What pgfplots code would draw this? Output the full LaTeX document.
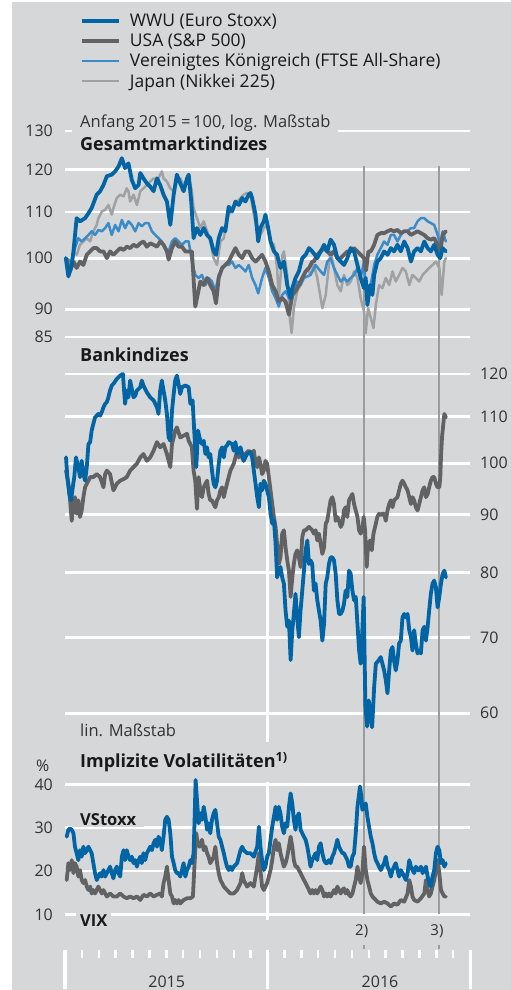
\documentclass[border=0pt]{standalone}
\usepackage{fontspec}
\setmainfont{Open Sans}
\usepackage{pgfplots}
\pgfplotsset{compat=1.18}
\definecolor{bg}{RGB}{214,215,217}
\definecolor{wwu}{RGB}{0,100,165}
\definecolor{usa}{RGB}{98,98,100}
\definecolor{uk}{RGB}{58,139,201}
\definecolor{jp}{RGB}{160,161,163}
\definecolor{ev}{RGB}{155,156,158}
\definecolor{txt}{RGB}{25,25,25}
\definecolor{lab}{RGB}{50,50,50}
\pgfplotsset{
 base/.style={
  scale only axis, width=405bp, xmin=0, xmax=24, clip=false, anchor=south west,
  axis line style={draw=none}, xtick=\empty, major tick length=0pt, tick style={draw=none},
  ymajorgrids, grid style={white, line width=2.8bp},
  tick label style={font=\fontsize{16bp}{19bp}\selectfont, text=lab},
  /pgf/number format/assume math mode=true,
  every axis plot/.append style={line join=round, line cap=round},
 },
 thick/.style={line width=3.8bp},
 thin/.style={line width=2.5bp},
}
\begin{document}
\begin{tikzpicture}
\fill[white] (0,0) rectangle (511bp,990bp);
\fill[bg] (12bp,0) rectangle (511bp,988bp);
% ---------------- top panel ----------------
\begin{axis}[base, at={(65bp,653bp)}, height=206bp, ymode=log, ymin=85, ymax=130,
  ytick={85,90,100,110,120,130}, yticklabels={85,90,100,110,120,130},
  yticklabel style={anchor=east, inner sep=0pt, xshift=-12bp},
  legend style={at={(axis description cs:0.037,1.568)}, anchor=north west, draw=none, fill=none,
    inner sep=0pt, row sep=5.5bp, column sep=9bp, font=\fontsize{17.5bp}{20bp}\selectfont, text=txt,
    nodes={inner sep=0pt}, cells={anchor=west}},
  legend image code/.code={\draw[#1, line cap=butt] (0bp,0bp) -- (37bp,0bp);},
  reverse legend]
\draw[white, line width=3bp] (axis cs:12,122.96) -- (axis cs:12,81.7);
\draw[ev, line width=2.2bp] (axis cs:17.74,120.9) -- (axis cs:17.74,81.7);
\draw[ev, line width=2.2bp] (axis cs:22.18,120.9) -- (axis cs:22.18,81.7);
\addplot[jp, thin] table {
0.05 100.0
0.30 98.6
0.50 101.4
0.69 100.7
0.89 102.8
1.09 103.5
1.29 104.2
1.49 103.5
1.68 105.7
1.88 107.1
1.98 108.6
2.18 110.1
2.38 110.5
2.57 111.6
2.77 109.4
2.87 110.9
3.07 113.2
3.27 114.0
3.47 113.6
3.66 115.5
3.76 114.8
3.86 112.4
4.06 114.0
4.26 111.6
4.46 114.8
4.65 115.5
4.85 116.3
5.05 117.1
5.25 117.9
5.45 117.1
5.64 118.8
5.74 119.6
5.84 117.9
6.04 117.1
6.24 115.5
6.44 114.8
6.63 117.1
6.83 117.9
7.03 116.3
7.23 117.1
7.33 118.4
7.52 114.8
7.62 110.9
7.82 108.6
8.02 106.4
8.22 107.9
8.42 105.7
8.61 103.5
8.81 100.0
9.01 98.6
9.21 103.5
9.41 104.2
9.60 108.6
9.80 110.1
10.00 110.9
10.20 112.4
10.40 113.2
10.59 114.0
10.79 114.4
10.99 114.0
11.19 109.4
11.39 105.7
11.58 104.9
11.78 106.4
11.98 107.1
12.18 103.5
12.38 102.8
12.57 98.0
12.67 92.0
12.87 100.5
12.97 101.4
13.17 96.6
13.30 89.0
13.43 85.7
13.56 90.2
13.76 93.4
13.96 94.6
14.16 96.6
14.36 98.0
14.55 96.6
14.75 98.6
14.95 96.0
15.15 92.1
15.25 90.2
15.45 92.7
15.64 98.6
15.74 101.4
15.94 98.0
16.14 94.6
16.34 93.4
16.53 96.6
16.73 94.6
16.93 95.3
17.13 97.3
17.33 96.0
17.52 92.1
17.72 89.6
17.82 85.7
17.96 90.2
18.12 88.4
18.28 86.6
18.42 90.8
18.61 94.6
18.81 94.0
19.01 96.0
19.21 94.6
19.41 97.3
19.60 95.3
19.80 96.6
20.00 98.0
20.20 97.3
20.40 94.6
20.59 96.6
20.79 96.0
20.99 95.3
21.19 96.6
21.39 97.3
21.58 98.0
21.78 98.6
21.98 99.3
22.18 98.0
22.32 92.7
22.48 99.3
22.57 100.0
};
\addlegendentry{Japan (Nikkei 225)}
\addplot[uk, thin] table {
0.05 100.0
0.40 99.3
0.59 102.1
0.79 104.2
0.99 103.5
1.19 104.2
1.39 104.9
1.58 105.7
1.78 104.9
1.98 106.0
2.18 105.7
2.38 106.4
2.57 107.5
2.77 104.9
2.97 107.1
3.17 105.7
3.37 108.2
3.56 106.4
3.76 107.9
3.96 107.1
4.16 105.7
4.36 107.5
4.55 106.8
4.75 107.5
4.95 107.5
5.15 105.7
5.35 104.9
5.54 104.2
5.74 103.5
5.94 102.1
6.14 101.4
6.34 103.5
6.53 104.2
6.73 103.5
6.93 102.8
7.13 103.5
7.33 103.5
7.52 99.3
7.72 96.6
7.92 96.0
8.12 96.6
8.32 94.6
8.51 96.0
8.71 95.3
8.91 93.4
9.11 96.6
9.31 98.0
9.50 98.6
9.70 98.6
9.90 99.3
10.10 98.0
10.30 98.6
10.50 98.0
10.69 97.3
10.89 98.6
11.09 96.0
11.29 94.6
11.45 93.0
11.68 96.0
11.88 98.0
12.08 96.0
12.28 93.4
12.48 92.1
12.67 90.5
12.87 92.7
13.07 93.4
13.27 92.1
13.43 91.4
13.56 93.4
13.76 95.3
13.96 94.6
14.16 96.0
14.36 96.3
14.55 96.6
14.85 98.6
15.15 97.3
15.35 96.6
15.54 99.3
15.74 100.0
15.94 98.0
16.14 96.6
16.34 95.3
16.53 96.0
16.73 95.3
16.93 96.0
17.13 96.6
17.33 98.0
17.52 96.0
17.72 99.3
17.84 93.0
17.98 94.0
18.12 94.6
18.32 98.6
18.51 100.7
18.71 102.1
18.91 103.5
19.11 102.8
19.31 104.9
19.50 104.9
19.70 103.5
19.90 104.9
20.10 105.7
20.30 105.7
20.50 106.4
20.69 106.4
20.89 107.9
21.09 108.6
21.29 108.6
21.49 107.9
21.68 107.5
21.88 107.1
22.08 104.9
22.24 102.8
22.38 105.7
22.57 103.5
};
\addlegendentry{Vereinigtes Königreich (FTSE All-Share)}
\addplot[usa, thick] table {
0.05 100.0
0.30 97.3
0.50 99.3
0.69 98.0
0.89 99.3
1.09 98.6
1.29 100.7
1.49 101.4
1.68 102.1
1.88 102.1
2.08 101.4
2.28 101.4
2.48 100.0
2.67 101.4
2.87 100.7
3.07 101.4
3.27 102.1
3.47 101.7
3.66 102.4
3.86 102.1
4.06 102.8
4.26 102.4
4.46 103.1
4.65 103.5
4.85 102.4
5.05 103.1
5.25 102.8
5.45 102.4
5.64 103.5
5.84 102.8
6.04 101.4
6.14 99.7
6.34 102.1
6.53 103.5
6.73 102.4
6.93 102.4
7.13 101.4
7.52 101.4
7.72 90.5
8.02 95.3
8.22 94.6
8.42 96.0
8.61 94.6
8.81 93.4
8.95 91.1
9.11 96.0
9.31 98.0
9.50 98.6
9.70 99.3
9.90 100.7
10.10 102.1
10.30 100.7
10.50 100.0
10.69 101.4
10.89 101.4
11.09 100.0
11.29 99.3
11.49 100.0
11.68 100.7
11.88 99.3
12.08 97.3
12.28 94.6
12.48 93.4
12.67 91.5
12.87 92.1
13.07 91.4
13.27 89.0
13.47 92.7
13.66 93.4
13.86 94.6
14.06 96.0
14.26 97.3
14.46 98.0
14.65 99.3
14.75 99.3
14.95 100.7
15.15 101.4
15.35 102.1
15.54 101.4
15.74 100.7
15.94 101.4
16.14 100.0
16.34 100.0
16.53 100.7
16.73 101.4
16.93 101.4
17.13 102.1
17.33 101.4
17.52 100.7
17.72 100.0
17.84 97.5
17.98 101.4
18.12 101.4
18.32 102.8
18.51 104.9
18.71 105.3
18.91 105.3
19.11 105.7
19.31 106.0
19.50 105.7
19.70 106.0
19.90 105.3
20.10 105.7
20.30 105.7
20.50 104.9
20.69 105.3
20.89 105.7
21.09 105.3
21.29 104.9
21.49 104.2
21.68 103.9
21.88 104.2
22.08 102.8
22.24 101.4
22.38 104.9
22.57 105.7
};
\addlegendentry{USA (S\&P 500)}
\addplot[wwu, thick] table {
0.05 100.0
0.20 96.3
0.40 98.6
0.50 101.4
0.69 108.6
0.89 107.9
1.19 108.6
1.39 109.7
1.58 110.9
1.88 114.0
2.08 114.8
2.28 116.3
2.48 118.4
2.77 118.8
2.97 119.6
3.17 120.8
3.37 122.9
3.56 120.4
3.76 121.6
3.96 117.5
4.16 115.5
4.36 116.3
4.46 119.2
4.65 117.9
4.85 116.7
5.05 115.9
5.25 114.8
5.45 117.9
5.64 116.3
5.84 114.0
6.04 112.4
6.24 107.1
6.44 114.0
6.63 118.8
6.83 116.7
7.03 114.8
7.23 117.9
7.33 118.8
7.48 112.4
7.62 104.2
7.82 106.4
8.02 104.9
8.22 106.4
8.42 104.9
8.61 104.2
8.81 101.4
8.95 100.7
9.11 104.2
9.31 106.4
9.50 105.7
9.70 111.2
9.90 110.1
10.10 112.4
10.30 111.6
10.50 113.2
10.69 112.4
10.89 114.0
10.99 114.4
11.09 113.2
11.29 109.4
11.45 103.5
11.58 106.4
11.78 107.9
11.88 109.4
12.04 106.4
12.18 103.5
12.38 101.4
12.57 100.7
12.77 98.0
12.97 99.3
13.17 94.6
13.37 92.1
13.47 94.0
13.66 96.0
13.86 97.3
14.06 100.0
14.26 100.7
14.46 102.1
14.65 101.4
14.95 100.0
15.15 101.4
15.35 102.8
15.54 101.4
15.74 103.9
15.94 102.8
16.14 100.0
16.34 99.3
16.53 98.6
16.73 100.0
16.93 102.1
17.13 101.4
17.33 98.6
17.52 96.0
17.72 94.0
17.82 96.0
17.92 90.8
18.08 94.6
18.22 92.7
18.32 96.6
18.51 99.3
18.71 100.0
18.91 101.4
19.11 100.7
19.31 102.1
19.50 101.4
19.70 102.8
19.90 101.4
20.10 103.5
20.30 102.1
20.50 99.3
20.69 101.4
20.89 102.1
21.09 101.4
21.29 103.5
21.49 102.1
21.68 101.4
21.88 102.8
22.08 100.7
22.24 100.0
22.38 102.1
22.57 101.4
};
\addlegendentry{WWU (Euro Stoxx)}
\end{axis}
% ---------------- bank panel ----------------
\begin{axis}[base, at={(65bp,276.7bp)}, height=339.3bp, ymode=log, ymin=60, ymax=120,
  ytick={60,70,80,90,100,110,120}, yticklabels={60,70,80,90,100,110,120},
  yticklabel pos=right, yticklabel style={anchor=west, inner sep=0pt, xshift=10bp}]
\draw[white, line width=3bp] (axis cs:12,124.5) -- (axis cs:12,56.6);
\draw[ev, line width=2.2bp] (axis cs:17.74,124.5) -- (axis cs:17.74,55.7);
\draw[ev, line width=2.2bp] (axis cs:22.18,124.5) -- (axis cs:22.18,55.7);
\addplot[usa, thick] table {
0.06 98.5
0.20 95.9
0.30 92.7
0.40 88.9
0.50 92.0
0.59 93.3
0.69 90.2
0.79 92.7
0.89 89.6
0.99 90.8
1.09 93.3
1.19 95.2
1.29 95.9
1.39 96.5
1.49 97.2
1.68 97.2
1.88 97.8
2.08 97.2
2.28 95.2
2.38 97.8
2.48 98.5
2.67 97.8
2.87 94.6
3.07 95.9
3.27 96.5
3.47 96.8
3.66 97.2
3.86 98.5
4.06 99.2
4.26 99.9
4.46 101.2
4.65 101.9
4.85 100.5
5.05 101.2
5.25 102.6
5.45 104.4
5.64 103.3
5.84 104.0
6.04 101.9
6.24 99.2
6.34 104.0
6.44 105.4
6.53 106.9
6.63 107.6
6.83 105.4
7.03 105.8
7.23 106.2
7.33 104.7
7.52 103.3
7.62 98.5
7.72 96.5
7.82 91.1
7.92 97.2
8.02 94.6
8.12 93.3
8.22 95.2
8.32 95.9
8.42 96.5
8.51 93.9
8.61 92.7
8.71 92.7
8.81 92.0
8.91 91.4
9.01 92.7
9.11 93.3
9.21 94.6
9.31 95.2
9.41 93.3
9.50 94.6
9.60 95.9
9.70 97.2
9.80 98.5
9.90 99.2
10.00 99.9
10.10 101.2
10.20 102.6
10.30 101.2
10.40 102.6
10.50 101.2
10.59 100.5
10.69 101.9
10.89 102.6
11.09 101.9
11.19 102.6
11.29 99.9
11.39 99.2
11.49 101.2
11.58 99.9
11.68 97.8
11.78 98.5
11.88 100.5
11.98 99.9
12.08 97.2
12.18 94.6
12.28 92.0
12.38 89.6
12.48 87.8
12.57 84.8
12.67 81.4
12.77 82.5
12.87 86.6
12.97 87.2
13.07 84.2
13.17 82.0
13.27 80.3
13.37 76.1
13.47 79.2
13.56 81.4
13.66 83.1
13.76 83.7
13.86 82.5
13.96 80.9
14.06 86.0
14.16 87.2
14.26 87.2
14.46 87.8
14.65 87.2
14.75 86.6
14.85 87.2
14.95 85.4
15.05 86.6
15.15 84.8
15.25 83.1
15.35 84.2
15.45 88.4
15.54 88.9
15.64 90.8
15.74 92.7
15.84 93.3
15.94 92.0
16.04 88.9
16.14 89.6
16.24 88.9
16.34 87.8
16.44 88.4
16.53 90.8
16.63 91.4
16.73 89.6
16.83 92.7
16.93 93.3
17.03 93.9
17.13 92.0
17.23 90.8
17.33 89.6
17.43 87.2
17.52 86.6
17.62 87.2
17.70 89.6
17.78 87.2
17.88 80.9
17.96 84.8
18.08 85.4
18.18 83.7
18.28 86.6
18.42 88.4
18.51 89.6
18.61 90.2
18.71 89.9
18.81 90.2
18.91 90.2
19.01 88.9
19.11 90.8
19.21 92.0
19.31 92.7
19.41 91.4
19.50 92.7
19.60 93.0
19.70 93.3
19.80 94.6
19.90 95.9
20.00 96.5
20.10 95.9
20.20 95.2
20.30 94.6
20.40 93.3
20.50 92.0
20.59 93.3
20.69 92.7
20.79 91.4
20.89 90.8
20.99 92.0
21.09 93.3
21.19 94.6
21.29 95.2
21.39 93.3
21.49 93.9
21.58 95.2
21.68 96.5
21.78 97.2
21.88 97.2
21.98 95.9
22.08 95.2
22.18 95.2
22.24 97.2
22.28 101.2
22.34 105.4
22.42 108.4
22.48 110.6
22.57 109.8
};
\addplot[wwu, thick] table {
0.06 101.2
0.14 97.2
0.26 93.9
0.36 92.7
0.46 95.2
0.55 97.2
0.65 101.2
0.79 99.2
0.89 97.2
0.99 100.5
1.09 97.8
1.19 96.5
1.29 99.2
1.39 104.0
1.49 104.4
1.58 106.9
1.68 108.4
1.78 109.8
1.88 110.2
1.98 110.6
2.08 110.2
2.18 111.0
2.28 112.1
2.38 112.9
2.48 113.3
2.57 114.4
2.67 116.0
2.77 117.2
2.87 117.6
3.07 118.8
3.27 119.6
3.43 120.0
3.56 112.9
3.66 116.0
3.76 114.4
3.86 118.4
3.96 116.4
4.06 114.4
4.16 114.8
4.26 116.0
4.46 116.8
4.55 118.4
4.65 117.2
4.85 115.6
5.05 114.4
5.25 113.7
5.45 112.1
5.54 110.6
5.64 116.0
5.74 118.4
5.84 116.0
5.94 113.7
6.04 110.6
6.14 105.4
6.24 104.7
6.34 111.3
6.44 115.2
6.53 118.4
6.63 119.6
6.73 117.6
6.83 115.2
6.93 116.8
7.13 117.2
7.33 116.8
7.43 112.9
7.56 113.7
7.68 105.4
7.78 99.2
7.88 106.9
8.02 104.7
8.12 104.0
8.22 104.7
8.32 101.9
8.42 103.3
8.51 101.2
8.61 101.9
8.71 98.5
8.81 95.9
8.91 95.2
9.01 96.5
9.11 99.9
9.21 102.6
9.31 103.3
9.41 101.2
9.50 103.3
9.60 103.7
9.70 104.4
9.90 104.0
10.00 102.6
10.10 104.4
10.20 101.9
10.30 102.6
10.40 103.3
10.50 101.9
10.59 100.5
10.69 101.2
10.79 101.9
10.99 102.3
11.09 101.2
11.19 98.5
11.29 95.9
11.39 93.3
11.49 91.4
11.58 95.9
11.68 94.6
11.78 96.5
11.88 95.9
11.98 94.6
12.08 93.3
12.18 90.2
12.28 88.4
12.38 89.0
12.48 84.8
12.57 79.2
12.67 80.3
12.77 80.9
12.87 79.2
12.97 78.2
13.07 74.0
13.17 71.6
13.27 72.5
13.37 66.9
13.47 71.1
13.56 73.5
13.66 76.6
13.76 73.0
13.86 70.1
13.96 74.0
14.06 77.1
14.16 80.3
14.26 83.7
14.36 85.4
14.46 81.4
14.55 82.0
14.65 81.4
14.75 77.1
14.85 78.2
14.95 75.6
15.05 74.0
15.15 72.5
15.25 69.6
15.35 72.0
15.45 78.2
15.54 79.2
15.64 81.4
15.74 82.5
15.84 82.5
15.94 82.0
16.04 79.8
16.14 75.6
16.24 73.5
16.34 73.5
16.44 74.0
16.53 75.0
16.63 77.1
16.73 76.1
16.83 80.3
16.93 79.8
17.03 77.1
17.13 75.6
17.23 76.1
17.33 72.0
17.43 68.2
17.52 66.4
17.62 71.1
17.70 76.1
17.80 61.0
17.90 58.4
18.00 61.6
18.10 59.5
18.20 58.3
18.32 63.3
18.42 66.4
18.57 66.8
18.71 67.3
18.81 66.4
18.91 65.5
19.01 64.2
19.11 62.5
19.21 65.5
19.31 68.2
19.41 68.7
19.50 66.8
19.60 65.5
19.70 66.8
19.80 69.2
19.90 69.6
20.00 73.0
20.10 73.5
20.20 73.0
20.30 73.5
20.40 71.1
20.50 70.1
20.59 68.2
20.69 71.1
20.79 69.2
20.89 67.8
20.99 68.2
21.09 67.8
21.19 71.1
21.29 71.6
21.39 69.6
21.49 71.6
21.58 74.0
21.68 76.6
21.78 78.2
21.88 78.7
21.98 77.6
22.08 74.5
22.18 76.1
22.28 78.2
22.38 79.8
22.48 80.3
22.57 79.2
};
\end{axis}
% ---------------- volatility panel ----------------
\begin{axis}[base, at={(65bp,75.7bp)}, height=130bp, ymin=10, ymax=40,
  ytick={10,20,30,40}, yticklabels={10,20,30,40},
  yticklabel style={anchor=east, inner sep=0pt, xshift=-12bp}]
\draw[white, line width=3bp] (axis cs:12,40.5) -- (axis cs:12,8.7);
\draw[ev, line width=2.2bp] (axis cs:17.74,47.9) -- (axis cs:17.74,10);
\draw[ev, line width=2.2bp] (axis cs:22.18,47.9) -- (axis cs:22.18,10);
\draw[ev, line width=2bp] (axis cs:17.74,2.9) -- (axis cs:17.74,2.1);
\draw[ev, line width=2bp] (axis cs:22.18,2.9) -- (axis cs:22.18,2.1);
\pgfplotsinvokeforeach{1,...,11,13,14,15,16,17,18,19,20,21,22,23}{
  \draw[white, line width=2.5bp] (axis cs:#1,1.76) -- (axis cs:#1,-0.06);}
\pgfplotsinvokeforeach{0,12,24}{
  \draw[white, line width=3bp] (axis cs:#1,1.76) -- (axis cs:#1,-7.2);}
\node[anchor=base west, inner xsep=8bp, inner ysep=2bp, fill=bg, text=txt,
  font=\bfseries\fontsize{16.5bp}{19bp}\selectfont] at (axis cs:0.415,30.6) {VStoxx};
\node[anchor=base west, inner xsep=4bp, inner ysep=2bp, fill=bg, text=txt,
  font=\bfseries\fontsize{16.5bp}{19bp}\selectfont] at (axis cs:0.652,7.14) {VIX};
\addplot[usa, thick] table {
0.10 17.9
0.20 21.8
0.30 20.2
0.40 22.5
0.50 19.5
0.59 21.8
0.69 21.0
0.79 18.7
0.89 20.2
0.99 17.9
1.09 17.2
1.19 17.9
1.29 16.4
1.39 15.6
1.49 16.4
1.58 14.8
1.68 15.6
1.78 14.8
1.88 15.6
1.98 16.4
2.08 15.6
2.18 14.8
2.28 15.6
2.38 14.8
2.48 14.1
2.67 14.8
2.87 14.1
3.07 14.1
3.27 14.8
3.47 14.1
3.66 13.7
3.86 14.1
4.06 13.7
4.26 14.1
4.46 13.3
4.65 14.5
4.85 14.1
5.05 14.8
5.25 14.1
5.45 14.5
5.64 14.8
5.74 14.1
5.84 17.2
5.94 18.7
6.04 21.0
6.14 17.9
6.24 14.8
6.34 14.1
6.44 12.5
6.53 13.3
6.63 12.5
6.73 13.3
6.83 12.5
7.03 13.3
7.23 13.7
7.43 13.7
7.58 14.1
7.68 21.8
7.78 28.7
7.86 26.4
7.98 25.6
8.12 27.2
8.22 24.8
8.32 25.6
8.42 24.1
8.51 23.3
8.61 21.8
8.71 22.5
8.81 23.3
8.91 25.6
9.01 21.8
9.11 19.5
9.21 17.9
9.31 17.2
9.41 16.4
9.60 15.6
9.80 14.8
10.00 14.8
10.20 15.6
10.40 17.2
10.50 19.5
10.59 17.9
10.79 16.4
10.99 17.2
11.19 16.4
11.39 21.0
11.49 24.1
11.58 20.2
11.68 16.4
11.78 15.6
11.88 16.4
11.98 17.2
12.08 18.7
12.18 20.2
12.28 22.5
12.38 25.6
12.48 27.2
12.57 24.8
12.67 26.4
12.77 24.1
12.87 22.5
12.97 21.0
13.07 21.8
13.17 23.3
13.27 25.6
13.37 27.9
13.47 25.6
13.56 22.5
13.66 21.0
13.76 21.0
13.86 20.2
13.96 19.5
14.06 18.7
14.16 17.9
14.26 17.2
14.36 16.4
14.46 15.6
14.55 14.8
14.65 15.6
14.75 14.8
14.85 15.6
14.95 14.8
15.05 15.6
15.15 16.4
15.25 15.6
15.35 14.1
15.45 14.8
15.54 14.1
15.64 14.8
15.74 14.1
15.84 14.8
15.94 15.6
16.04 14.8
16.14 16.4
16.24 15.6
16.34 14.8
16.44 15.6
16.53 16.0
16.63 14.8
16.73 15.6
16.83 14.5
16.93 14.1
17.03 14.8
17.13 16.4
17.23 17.9
17.33 21.0
17.43 18.7
17.52 17.2
17.62 19.5
17.72 25.6
17.82 20.2
17.92 17.9
18.02 16.4
18.12 14.8
18.22 14.1
18.32 13.7
18.42 13.3
18.51 12.9
18.71 12.5
18.91 12.9
19.11 12.5
19.31 11.8
19.50 12.5
19.70 12.2
19.90 13.3
20.10 12.9
20.30 14.8
20.40 17.9
20.50 16.4
20.59 14.1
20.69 13.3
20.89 12.9
21.09 13.7
21.29 14.8
21.39 17.9
21.49 15.6
21.58 14.1
21.68 14.8
21.78 16.4
21.88 17.9
21.98 20.2
22.08 22.5
22.18 19.5
22.28 15.6
22.38 14.8
22.48 14.1
22.57 14.1
};
\addplot[wwu, thick] table {
0.10 27.9
0.20 29.5
0.30 29.8
0.40 29.5
0.50 28.7
0.59 25.6
0.69 24.1
0.79 22.5
0.89 24.8
0.99 23.3
1.09 25.6
1.19 24.1
1.29 24.8
1.39 25.6
1.49 24.8
1.58 24.1
1.68 21.8
1.78 19.5
1.88 17.9
1.98 18.7
2.08 19.5
2.18 18.7
2.28 20.2
2.38 18.7
2.48 19.5
2.67 21.0
2.77 19.5
2.87 18.3
2.97 20.2
3.07 21.0
3.17 19.5
3.27 18.7
3.37 23.3
3.47 24.8
3.56 22.5
3.66 24.8
3.76 23.3
3.86 22.5
3.96 23.3
4.06 21.8
4.16 22.5
4.26 21.0
4.36 22.5
4.46 23.3
4.55 21.8
4.65 24.1
4.75 22.5
4.85 24.1
4.95 24.8
5.05 25.6
5.15 24.8
5.25 26.4
5.35 27.2
5.45 25.6
5.54 27.9
5.64 27.2
5.74 24.8
5.84 27.9
5.94 31.8
6.04 32.5
6.14 31.8
6.24 28.7
6.34 23.3
6.44 21.8
6.53 20.2
6.63 19.5
6.73 19.5
6.83 18.7
6.93 20.2
7.03 21.8
7.13 18.7
7.23 20.2
7.33 21.0
7.43 22.5
7.52 21.8
7.62 24.1
7.68 31.8
7.74 41.0
7.82 36.4
7.92 31.0
8.02 33.3
8.12 31.8
8.22 34.8
8.32 32.5
8.42 29.5
8.51 31.0
8.61 28.7
8.71 31.8
8.81 33.3
8.91 34.1
9.01 31.0
9.11 27.9
9.21 27.2
9.31 25.6
9.41 24.1
9.50 22.5
9.60 21.0
9.70 20.2
9.80 21.0
9.90 20.2
10.00 21.0
10.20 21.8
10.40 24.8
10.50 25.6
10.59 24.8
10.79 24.1
10.99 24.1
11.19 23.3
11.39 25.6
11.49 30.2
11.58 25.6
11.68 22.5
11.78 20.2
11.88 21.0
11.98 23.3
12.08 24.1
12.18 27.2
12.28 30.2
12.38 32.5
12.48 34.8
12.57 31.8
12.67 34.8
12.77 33.3
12.87 30.2
12.97 28.7
13.07 31.0
13.17 30.2
13.27 34.8
13.37 37.9
13.47 35.6
13.56 31.8
13.66 29.5
13.76 32.5
13.86 33.3
13.96 29.5
14.06 28.7
14.16 27.9
14.26 27.2
14.36 25.6
14.46 23.3
14.55 21.0
14.65 22.5
14.75 23.3
14.85 24.1
14.95 22.5
15.05 25.6
15.15 26.4
15.25 24.1
15.35 22.5
15.45 21.8
15.54 21.8
15.64 22.5
15.74 21.8
15.84 23.3
15.94 24.1
16.04 25.6
16.14 27.2
16.24 25.6
16.34 24.8
16.44 24.1
16.53 24.1
16.63 23.3
16.73 22.5
16.83 21.0
16.93 21.0
17.03 23.3
17.13 24.1
17.23 28.7
17.33 34.8
17.48 39.5
17.56 37.2
17.62 34.1
17.72 34.8
17.82 35.6
17.92 32.5
18.02 30.2
18.12 27.9
18.22 26.4
18.32 24.1
18.42 22.5
18.51 21.8
18.61 21.0
18.71 20.2
18.81 21.0
18.91 21.8
19.01 23.3
19.11 21.0
19.21 20.2
19.31 18.7
19.41 20.2
19.50 21.0
19.60 21.8
19.70 20.2
19.80 18.7
19.90 20.2
20.00 19.5
20.10 18.7
20.20 17.9
20.30 19.5
20.40 22.5
20.50 21.0
20.59 20.2
20.69 19.5
20.79 21.0
20.89 20.2
20.99 20.2
21.09 21.0
21.19 19.5
21.29 20.2
21.39 21.0
21.49 18.7
21.58 17.2
21.68 16.4
21.78 18.7
21.88 20.2
21.98 24.1
22.08 25.6
22.18 24.8
22.28 21.8
22.38 22.5
22.48 21.0
22.57 21.8
};
\end{axis}
% ---------------- texts ----------------
\node[anchor=base west, inner xsep=8bp, inner ysep=4bp, fill=bg, text=lab,
  font=\fontsize{16.5bp}{19bp}\selectfont] at (72bp,862bp) {Anfang 2015 =\,100, log. Maßstab};
\node[anchor=base west, inner sep=0pt, text=txt, font=\bfseries\fontsize{18bp}{21bp}\selectfont]
  at (80bp,839.3bp) {Gesamtmarktindizes};
\node[anchor=base west, inner sep=0pt, text=txt, font=\bfseries\fontsize{18bp}{21bp}\selectfont]
  at (80bp,628.3bp) {Bankindizes};
\node[anchor=base west, inner sep=0pt, text=lab, font=\fontsize{16.5bp}{19bp}\selectfont]
  at (80bp,253.3bp) {lin. Maßstab};
\node[anchor=base west, inner sep=0pt, text=txt, font=\bfseries\fontsize{18bp}{21bp}\selectfont]
  at (80bp,222.7bp) {Implizite Volatilitäten\textsuperscript{1)}};
\node[anchor=base west, inner sep=0pt, text=lab, font=\fontsize{16bp}{19bp}\selectfont]
  at (36bp,218.3bp) {\%};
\node[anchor=base, inner sep=0pt, text=lab, font=\fontsize{15bp}{18bp}\selectfont]
  at (361.7bp,54bp) {2)};
\node[anchor=base, inner sep=0pt, text=lab, font=\fontsize{15bp}{18bp}\selectfont]
  at (437bp,54bp) {3)};
\node[anchor=base, inner sep=0pt, text=lab, font=\fontsize{16bp}{19bp}\selectfont]
  at (166.7bp,2.5bp) {2015};
\node[anchor=base, inner sep=0pt, text=lab, font=\fontsize{16bp}{19bp}\selectfont]
  at (380bp,2.5bp) {2016};
\pgfresetboundingbox
\useasboundingbox (0,0) rectangle (511bp,990bp);
\end{tikzpicture}
\end{document}
